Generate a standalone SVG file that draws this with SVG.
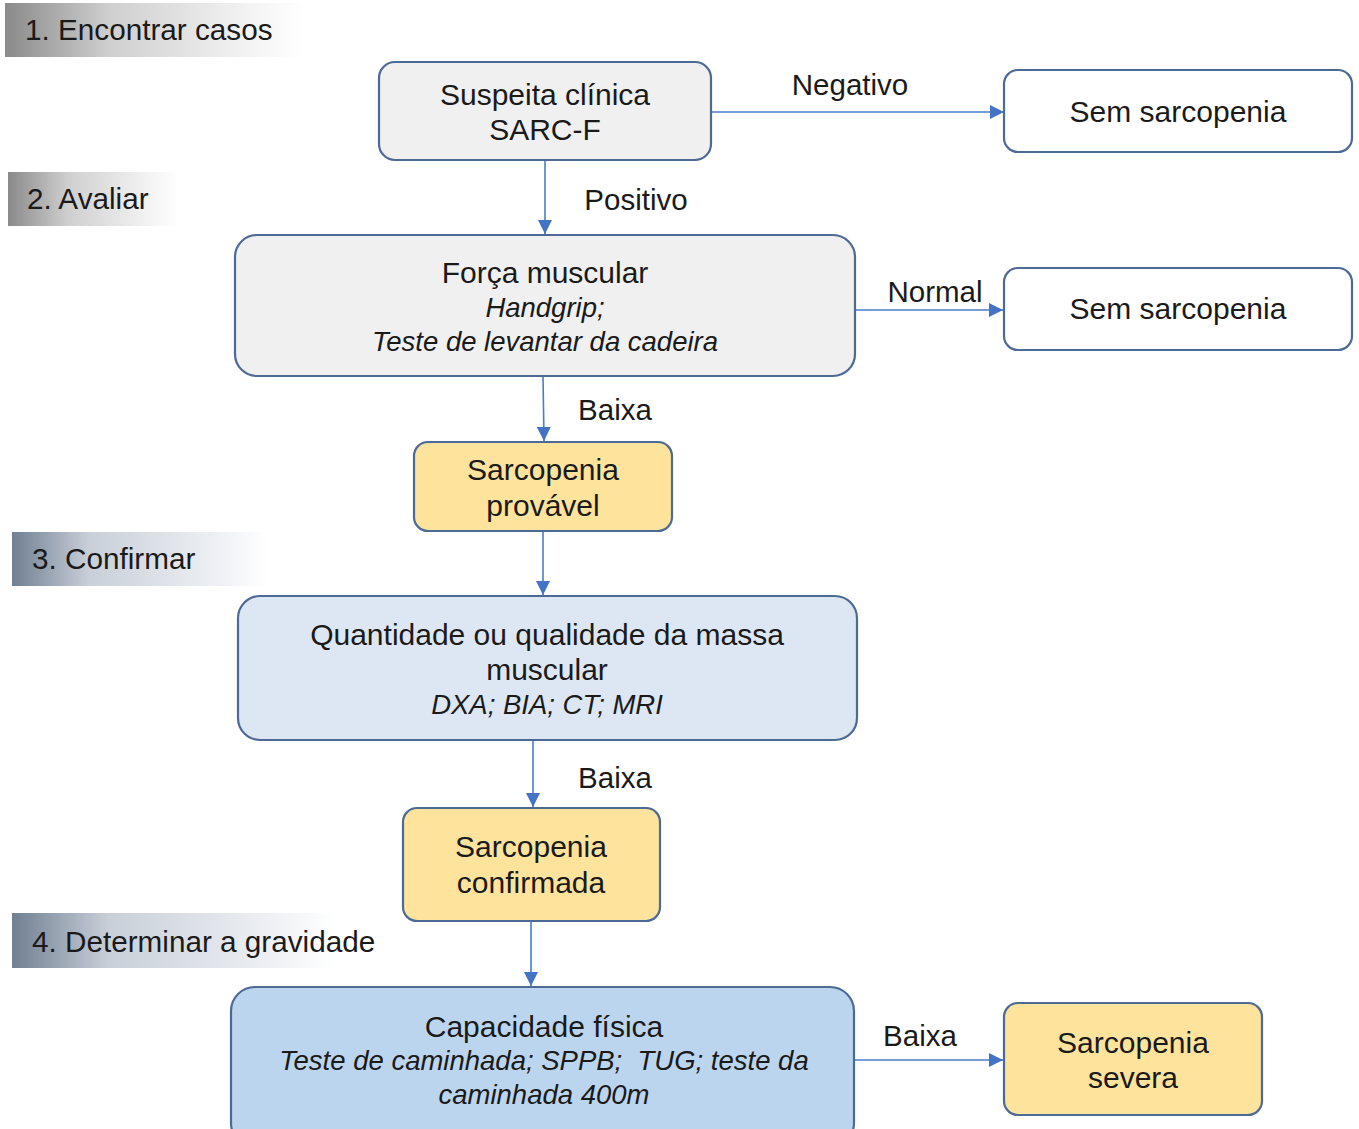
<svg xmlns="http://www.w3.org/2000/svg" width="1359" height="1129" viewBox="0 0 1359 1129">
<defs>
<linearGradient id="gGray" x1="0" y1="0" x2="1" y2="0">
<stop offset="0" stop-color="#8a8a8a"/><stop offset="0.35" stop-color="#cfcfcf"/><stop offset="0.8" stop-color="#f2f2f2"/><stop offset="1" stop-color="#ffffff"/>
</linearGradient>
<linearGradient id="gBlue" x1="0" y1="0" x2="1" y2="0">
<stop offset="0" stop-color="#707f92"/><stop offset="0.3" stop-color="#c8cfd8"/><stop offset="0.8" stop-color="#eef0f4"/><stop offset="1" stop-color="#ffffff"/>
</linearGradient>
<marker id="arr" viewBox="0 0 10 10" refX="10" refY="5" markerWidth="14" markerHeight="14" markerUnits="userSpaceOnUse" orient="auto">
<path d="M0,0 L10,5 L0,10 z" fill="#4472c4"/>
</marker>
<style>
text{font-family:"Liberation Sans",Arial,sans-serif;fill:#1a1a1a;}
.t{font-size:30px;text-anchor:middle;}
.i{font-size:27.5px;font-style:italic;text-anchor:middle;}
.lbl{font-size:29.5px;text-anchor:middle;}
.hd{font-size:29.7px;}
.box{stroke:#4d6a96;stroke-width:2.2;}
.gray{fill:#f0f0f0;}
.white{fill:#ffffff;}
.yel{fill:#fde39b;}
.lb{fill:#dde7f4;}
.mb{fill:#bcd5ee;}
.c{stroke:#4a7bd0;stroke-width:1.6;fill:none;marker-end:url(#arr);}
</style>
</defs>
<rect width="1359" height="1129" fill="#ffffff"/>

<g id="headers">
<g id="h1"><rect x="5" y="3" width="300" height="54" fill="url(#gGray)"/><text class="hd" x="25" y="40">1. Encontrar casos</text></g>
<g id="h2"><rect x="8" y="172" width="172" height="54" fill="url(#gGray)"/><text class="hd" x="27" y="209">2. Avaliar</text></g>
<g id="h3"><rect x="12" y="532" width="256" height="54" fill="url(#gBlue)"/><text class="hd" x="32" y="569">3. Confirmar</text></g>
<g id="h4"><rect x="12" y="913" width="323" height="55" fill="url(#gBlue)"/><text class="hd" x="32" y="952">4. Determinar a gravidade</text></g>
</g>

<g id="connectors">
<line class="c" x1="711" y1="112" x2="1004" y2="112"/>
<line class="c" x1="545" y1="160" x2="545" y2="234"/>
<line class="c" x1="855" y1="310" x2="1003" y2="310"/>
<line class="c" x1="543" y1="376" x2="544" y2="441"/>
<line class="c" x1="543" y1="531" x2="543" y2="595"/>
<line class="c" x1="533" y1="740" x2="533" y2="807"/>
<line class="c" x1="531" y1="921" x2="531" y2="986"/>
<line class="c" x1="854" y1="1060" x2="1003" y2="1060"/>
<text class="lbl" x="850" y="95">Negativo</text>
<text class="lbl" x="636" y="210">Positivo</text>
<text class="lbl" x="935" y="302">Normal</text>
<text class="lbl" x="615" y="420">Baixa</text>
<text class="lbl" x="615" y="788">Baixa</text>
<text class="lbl" x="920" y="1046">Baixa</text>
</g>

<g id="n_suspeita"><rect class="box gray" x="379" y="62" width="332" height="98" rx="16"/>
<text class="t" x="545" y="105">Suspeita clínica</text><text class="t" x="545" y="140">SARC-F</text></g>

<g id="n_sem1"><rect class="box white" x="1004" y="70" width="348" height="82" rx="14"/>
<text class="t" x="1178" y="122">Sem sarcopenia</text></g>

<g id="n_forca"><rect class="box gray" x="235" y="235" width="620" height="141" rx="22"/>
<text class="t" x="545" y="283">Força muscular</text>
<text class="i" x="545" y="317">Handgrip;</text>
<text class="i" x="545" y="351">Teste de levantar da cadeira</text></g>

<g id="n_sem2"><rect class="box white" x="1004" y="268" width="348" height="82" rx="14"/>
<text class="t" x="1178" y="319">Sem sarcopenia</text></g>

<g id="n_provavel"><rect class="box yel" x="414" y="442" width="258" height="89" rx="14"/>
<text class="t" x="543" y="480">Sarcopenia</text><text class="t" x="543" y="516">provável</text></g>

<g id="n_quantidade"><rect class="box lb" x="238" y="596" width="619" height="144" rx="22"/>
<text class="t" x="547" y="645">Quantidade ou qualidade da massa</text>
<text class="t" x="547" y="680">muscular</text>
<text class="i" x="547" y="714">DXA; BIA; CT; MRI</text></g>

<g id="n_confirmada"><rect class="box yel" x="403" y="808" width="257" height="113" rx="14"/>
<text class="t" x="531" y="857">Sarcopenia</text><text class="t" x="531" y="893">confirmada</text></g>

<g id="n_capacidade"><rect class="box mb" x="231" y="987" width="623" height="160" rx="24"/>
<text class="t" x="544" y="1037">Capacidade física</text>
<text class="i" x="544" y="1070" xml:space="preserve">Teste de caminhada; SPPB;  TUG; teste da</text>
<text class="i" x="544" y="1104">caminhada 400m</text></g>

<g id="n_severa"><rect class="box yel" x="1004" y="1003" width="258" height="112" rx="14"/>
<text class="t" x="1133" y="1053">Sarcopenia</text><text class="t" x="1133" y="1088">severa</text></g>
</svg>
